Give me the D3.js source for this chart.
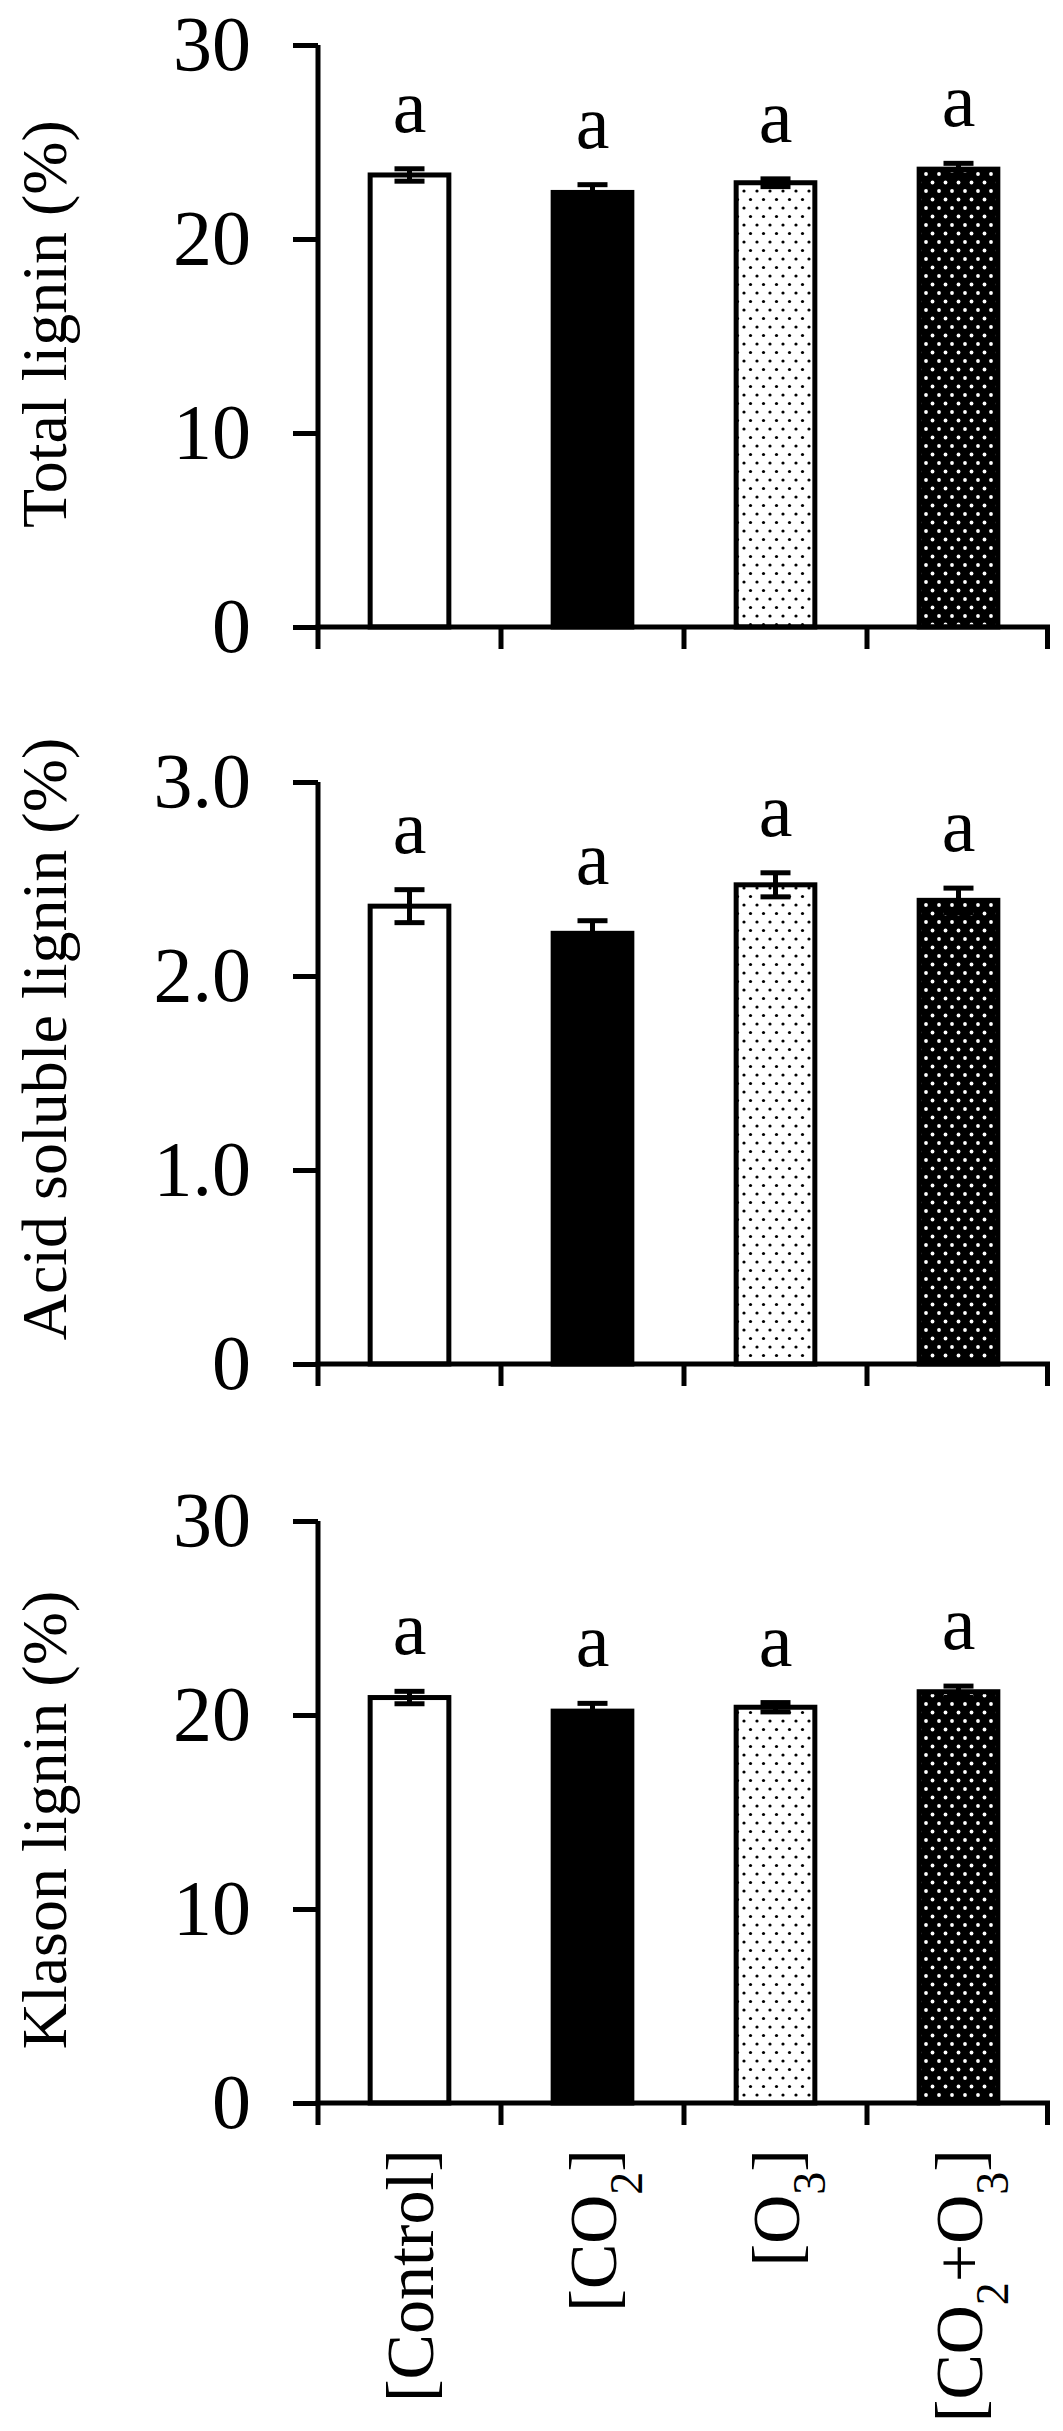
<!DOCTYPE html>
<html>
<head>
<meta charset="utf-8">
<script src="https://cdn.jsdelivr.net/npm/d3@7"></script>
<style>
  html, body { margin: 0; padding: 0; background: #fff; }
  svg { display: block; }
  text { font-family: "Liberation Serif", "Times New Roman", serif; fill: #000; }
</style>
</head>
<body>
<script>
// ---------- DATA ----------
const categories = ["[Control]", "[CO2]", "[O3]", "[CO2+O3]"];

const totalLignin    = [23.3, 22.4, 22.9, 23.6];
const totalLigninErr = [0.32, 0.40, 0.20, 0.30];
const totalLetters   = ["a", "a", "a", "a"];

const acidLignin     = [2.36, 2.22, 2.47, 2.39];
const acidLigninErr  = [0.085, 0.065, 0.062, 0.063];
const acidLetters    = ["a", "a", "a", "a"];

const klasonLignin    = [20.9, 20.2, 20.4, 21.2];
const klasonLigninErr = [0.32, 0.40, 0.24, 0.29];
const klasonLetters   = ["a", "a", "a", "a"];

const yTitles = ["Total lignin (%)", "Acid soluble lignin (%)", "Klason lignin (%)"];
const yMaxes = [30, 3, 30];
const tickValues1 = [0, 10, 20, 30];
const tickLabels1 = ["0", "10", "20", "30"];
const tickValues2 = [0, 1, 2, 3];
const tickLabels2 = ["0", "1.0", "2.0", "3.0"];
const tickValues3 = [0, 10, 20, 30];
const tickLabels3 = ["0", "10", "20", "30"];

// ---------- LAYOUT ----------
const W = 1063, H = 2431;
const axisX = 318, axisXEnd = 1050;
const panelTops = [45, 782, 1521];
const panelH = 582;
const titleCenters = [324, 1039, 1820];
const fills = ["white", "black", "url(#dotsLight)", "url(#dotsDark)"];

const svg = d3.select("body").append("svg").attr("width", W).attr("height", H);

// patterns
const defs = svg.append("defs");
const p1 = defs.append("pattern").attr("id", "dotsLight").attr("patternUnits", "userSpaceOnUse")
  .attr("width", 13).attr("height", 17);
p1.append("rect").attr("width", 13).attr("height", 17).attr("fill", "white");
p1.append("circle").attr("cx", 3).attr("cy", 4).attr("r", 1.6).attr("fill", "black");
p1.append("circle").attr("cx", 9.5).attr("cy", 12.5).attr("r", 1.6).attr("fill", "black");
const p2 = defs.append("pattern").attr("id", "dotsDark").attr("patternUnits", "userSpaceOnUse")
  .attr("width", 13).attr("height", 17);
p2.append("rect").attr("width", 13).attr("height", 17).attr("fill", "black");
p2.append("circle").attr("cx", 3).attr("cy", 4).attr("r", 1.9).attr("fill", "white");
p2.append("circle").attr("cx", 9.5).attr("cy", 12.5).attr("r", 1.9).attr("fill", "white");

const x = d3.scaleBand().domain(categories).range([axisX, axisXEnd])
  .paddingInner(0.57).paddingOuter(0.285);

const panels = [
  { vals: totalLignin, errs: totalLigninErr, letters: totalLetters, tv: tickValues1, tl: tickLabels1 },
  { vals: acidLignin, errs: acidLigninErr, letters: acidLetters, tv: tickValues2, tl: tickLabels2 },
  { vals: klasonLignin, errs: klasonLigninErr, letters: klasonLetters, tv: tickValues3, tl: tickLabels3 }
];

panels.forEach((p, pi) => {
  const top = panelTops[pi], bottom = top + panelH;
  const y = d3.scaleLinear().domain([0, yMaxes[pi]]).range([bottom, top]);
  const g = svg.append("g");

  // bars
  g.selectAll("rect.bar").data(categories).join("rect")
    .attr("class", "bar")
    .attr("x", d => x(d))
    .attr("width", x.bandwidth())
    .attr("y", (d, i) => y(p.vals[i]))
    .attr("height", (d, i) => y(0) - y(p.vals[i]))
    .attr("fill", (d, i) => fills[i])
    .attr("stroke", "black").attr("stroke-width", 5);

  // error bars + letters
  const capW = 30;
  categories.forEach((c, i) => {
    const cx = x(c) + x.bandwidth() / 2;
    const yHi = y(p.vals[i] + p.errs[i]), yLo = y(p.vals[i] - p.errs[i]);
    g.append("line").attr("x1", cx).attr("x2", cx).attr("y1", yHi).attr("y2", yLo)
      .attr("stroke", "black").attr("stroke-width", 5);
    [yHi, yLo].forEach(yy => g.append("line")
      .attr("x1", cx - capW / 2).attr("x2", cx + capW / 2).attr("y1", yy).attr("y2", yy)
      .attr("stroke", "black").attr("stroke-width", 5));
    g.append("text").attr("x", cx).attr("y", yHi - 37)
      .attr("text-anchor", "middle").attr("font-size", 76).text(p.letters[i]);
  });

  // y axis
  const yAxis = d3.axisLeft(y).tickValues(p.tv).tickFormat((d, i) => p.tl[i])
    .tickSize(25).tickPadding(42);
  const ya = g.append("g").attr("transform", `translate(${axisX},0)`).call(yAxis);
  ya.select(".domain").attr("stroke", "black").attr("stroke-width", 5)
    .attr("d", `M0,${top}V${bottom}`);
  ya.selectAll(".tick line").attr("stroke", "black").attr("stroke-width", 5);
  ya.selectAll(".tick text").attr("font-size", 78)
    .attr("font-family", '"Liberation Serif", "Times New Roman", serif');

  // x axis
  const xa = g.append("g").attr("transform", `translate(0,${bottom})`);
  xa.append("line").attr("x1", axisX - 2.5).attr("x2", axisXEnd).attr("y1", 0).attr("y2", 0)
    .attr("stroke", "black").attr("stroke-width", 5);
  const edges = categories.map(c => x(c) - x.step() * x.paddingInner() / 2);
  edges.push(axisXEnd - 2.5);
  edges[0] = axisX;
  xa.selectAll("line.xt").data(edges).join("line").attr("class", "xt")
    .attr("x1", d => d).attr("x2", d => d).attr("y1", 0).attr("y2", 22)
    .attr("stroke", "black").attr("stroke-width", 5);

  // y title
  svg.append("text")
    .attr("transform", `translate(66,${titleCenters[pi]}) rotate(-90)`)
    .attr("text-anchor", "middle").attr("font-size", 64).text(yTitles[pi]);
});

// category labels (rotated) under bottom panel
const lastBottom = panelTops[2] + panelH;
categories.forEach(c => {
  const cx = x(c) + x.bandwidth() / 2;
  const t = svg.append("text")
    .attr("transform", `translate(${cx},${lastBottom + 46}) rotate(-90)`)
    .attr("text-anchor", "end").attr("dy", "0.35em").attr("font-size", 68);
  c.split(/(\d)/).filter(s => s.length).forEach(part => {
    if (/^\d$/.test(part)) {
      t.append("tspan").attr("baseline-shift", "sub").attr("font-size", 46).text(part);
    } else {
      t.append("tspan").text(part);
    }
  });
});
</script>
</body>
</html>
